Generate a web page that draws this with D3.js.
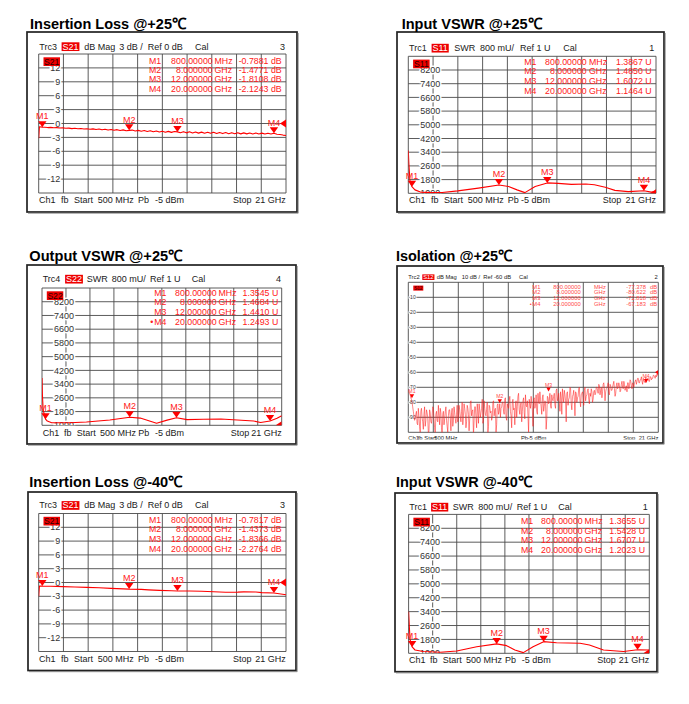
<!DOCTYPE html>
<html><head><meta charset="utf-8">
<script src="https://cdn.jsdelivr.net/npm/d3@7"></script>
<style>body{margin:0;background:#fff}svg{display:block}text{font-family:"Liberation Sans",Arial,sans-serif}</style>
</head><body><svg id="c" width="689" height="704"></svg>
<script>
// ---------------- DATA ----------------
const markerNames = ["M1","M2","M3","M4"];
const markerFreqs = [0.8, 8, 12, 20];
const markerFreqText = ["800.00000","8.000000","12.000000","20.000000"];
const markerUnits = ["MHz","GHz","GHz","GHz"];

const il25Marks = [-0.7881,-1.4771,-1.8108,-2.1243];
const inVswr25Marks = [1.3867,1.4850,1.6072,1.1464];
const outVswr25Marks = [1.3545,1.4684,1.4410,1.2493];
const iso25Marks = [-77.378,-80.622,-72.818,-67.183];
const il40Marks = [-0.7817,-1.4373,-1.8366,-2.2764];
const inVswr40Marks = [1.3655,1.5428,1.6707,1.2023];

const ilTicks = [12,9,6,3,0,-3,-6,-9,-12];
const vswrTicks = [8.2,7.4,6.6,5.8,5.0,4.2,3.4,2.6,1.8,1.0];
const vswrTickText = ["8200","7400","6600","5800","5000","4200","3400","2600","1800","1000"];
const isoTicks = [-10,-20,-30,-40,-50,-60,-70,-80,-90];

// Insertion loss @+25 (GHz, dB)
const il25Trace = [[0.5,-3.2],[0.56,-0.7],[0.8,-0.79],[1,-0.82],[1.25,-0.88],[1.5,-0.84],[1.75,-0.93],[2,-0.9],[2.25,-0.98],[2.5,-0.95],[2.75,-1.04],[3,-0.99],[3.25,-1.1],[3.5,-1.04],[3.75,-1.14],[4,-1.08],[4.25,-1.2],[4.5,-1.12],[4.75,-1.25],[5,-1.16],[5.25,-1.3],[5.5,-1.2],[5.75,-1.36],[6,-1.24],[6.25,-1.42],[6.5,-1.28],[6.75,-1.46],[7,-1.33],[7.25,-1.52],[7.5,-1.37],[7.75,-1.56],[8,-1.48],[8.25,-1.42],[8.5,-1.62],[8.75,-1.48],[9,-1.68],[9.25,-1.52],[9.5,-1.74],[9.75,-1.58],[10,-1.78],[10.25,-1.62],[10.5,-1.84],[10.75,-1.66],[11,-1.88],[11.25,-1.7],[11.5,-1.92],[11.75,-1.72],[12,-1.81],[12.25,-1.98],[12.5,-1.76],[12.75,-2.02],[13,-1.8],[13.25,-2.06],[13.5,-1.84],[13.75,-2.08],[14,-1.86],[14.25,-2.1],[14.5,-1.88],[14.75,-2.12],[15,-1.9],[15.25,-2.16],[15.5,-1.94],[15.75,-2.18],[16,-1.96],[16.25,-2.2],[16.5,-1.98],[16.75,-2.22],[17,-2],[17.25,-2.24],[17.5,-2.02],[17.75,-2.24],[18,-2.04],[18.25,-2.26],[18.5,-2.06],[18.75,-2.26],[19,-2.08],[19.25,-2.28],[19.5,-2.1],[19.75,-2.26],[20,-2.12],[20.25,-2.32],[20.5,-2.38],[20.75,-2.5],[21,-2.58]];

// Input VSWR @+25 (GHz, U)
const inVswr25Trace = [[0.5,3.5],[0.55,2.7],[0.64,1.7],[0.8,1.39],[1.05,1.2],[1.5,1.07],[2.4,1.04],[3.3,1.05],[4.6,1.14],[6.3,1.3],[8,1.485],[8.8,1.4],[9.5,1.2],[10.15,1.04],[11,1.4],[12,1.607],[12.9,1.58],[14,1.52],[15.2,1.54],[15.9,1.5],[16.8,1.35],[17.6,1.17],[18.7,1.1],[20,1.146],[20.6,1.07],[21,1.1]];

// Output VSWR @+25
const outVswr25Trace = [[0.5,3.75],[0.53,2.85],[0.6,1.9],[0.8,1.3545],[0.95,1.25],[1.33,1.15],[2.9,1.15],[4.3,1.19],[6.3,1.31],[8,1.468],[8.9,1.42],[10.3,1.12],[11.2,1.3],[12,1.441],[12.9,1.33],[14.3,1.35],[15.8,1.37],[17.2,1.31],[18.6,1.25],[19.2,1.16],[20,1.249],[20.6,1.41],[21,1.56]];

// Isolation @+25 (dB): even sweep points (A) and odd sweep points (B), 0.5 to 21 GHz
const isoSweepStart = 0.5, isoSweepStop = 21;
const iso25ValuesA = [-72,-74,-77,-80,-86,-92,
-88,-94,-84,-96,-86,-90,-98,-83,-92,-87,-101,-85,-93,-89,-84,-97,-88,-92,-82,-95,-87,-104,-86,-91,-83,-96,-89,-85,-99,-84,-92,-87,-94,-82,-90,
-85,-93,-80,-89,-84,-97,-82,-88,-91,-79,-86,-102,-83,-90,-81,-94,-85,-87,-78,-92,-84,-89,-80,-96,-83,-86,-90,-79,-85,-100,-82,-88,-81,-84,-80,
-86,-78,-90,-81,-84,-76,-89,-80,-85,-95,-79,-83,-74,-88,-80,-86,-77,-91,-82,-79,-100,-81,-76,-85,-78,-84,-75,-88,-80,-73,-83,-77,-86,-79,-98,-76,-81,-74,-84,-78,
-76,-82,-72,-79,-74,-86,-77,-71,-80,-75,-93,-73,-78,-70,-81,-76,-72,-89,-74,-77,-71,-79,-75,-73,-82,-70,-76,-72,-78,-74,-71,-80,-73,-75,-70,
-72,-68,-75,-70,-73,-67,-79,-71,-69,-74,-68,-72,-70,-66,-76,-69,-71,-67,-73,-68,-70,-66,-72,-69,-67,-71,-65,-69,-67,-70,
-66,-68,-64,-67,-65,-63,-68,-66,-67,-65,-64,-66,-63,-65,-64,-62,-64,-63,-62,-61];
const iso25ValuesB = [-73,-75,-78,-83,-89,
-91,-86,-95,-89,-100,-84,-93,-88,-96,-85,-90,-99,-87,-94,-83,-91,-102,-86,-93,-89,-84,-97,-88,-95,-86,-92,-100,-85,-90,-87,-96,-83,-91,-88,-93,
-82,-90,-86,-95,-81,-88,-93,-84,-99,-80,-89,-85,-92,-83,-97,-86,-81,-90,-84,-94,-79,-88,-85,-101,-82,-87,-92,-80,-89,-84,-95,-81,-86,-90,-83,
-80,-88,-77,-92,-83,-79,-86,-97,-78,-84,-81,-90,-76,-85,-82,-93,-79,-87,-75,-83,-89,-78,-84,-80,-96,-77,-82,-86,-74,-81,-78,-88,-75,-83,-80,-91,-77,-79,-82,-75,
-79,-74,-84,-71,-77,-80,-73,-88,-76,-72,-79,-74,-82,-77,-71,-85,-75,-78,-73,-80,-76,-70,-83,-74,-77,-72,-79,-75,-71,-81,-76,-73,-78,-72,-74,
-70,-74,-69,-72,-77,-68,-71,-73,-70,-67,-75,-69,-72,-68,-71,-74,-67,-70,-69,-72,-66,-71,-68,-70,-73,-67,-69,-66,-71,-68,
-67,-65,-66,-64,-67,-65,-66,-64,-66,-63,-65,-64,-66,-63,-64,-62,-63,-62,-61];

// Insertion loss @-40
const il40Trace = [[0.5,-3.0],[0.56,-0.75],[0.8,-0.78],[1.5,-0.82],[2.5,-0.9],[3.5,-0.98],[4.5,-1.05],[5.5,-1.15],[6.5,-1.28],[7.5,-1.38],[8,-1.44],[9,-1.5],[9.6,-1.6],[10.5,-1.72],[11.5,-1.8],[12,-1.84],[13,-1.86],[14,-1.9],[15,-2.0],[16,-2.12],[17,-2.1],[17.5,-2.04],[18.5,-2.07],[19,-2.2],[20,-2.28],[21,-2.65]];

// Input VSWR @-40
const inVswr40Trace = [[0.5,3.4],[0.56,2.55],[0.63,1.77],[0.8,1.3655],[1.05,1.19],[1.75,1.1],[3.2,1.06],[4.6,1.13],[6.3,1.38],[8,1.5428],[8.85,1.44],[9.55,1.19],[10.27,1.04],[11.1,1.38],[12,1.6707],[13.1,1.61],[15.1,1.58],[15.9,1.48],[17.1,1.19],[18.8,1.1],[20,1.2023],[21,1.19]];

// ---------------- DRAW ----------------
const svg = d3.select("#c");
const RED = "#ff0000";
const isoValues = [];
iso25ValuesA.forEach((v,i)=>{ isoValues.push(v); if(i<iso25ValuesB.length) isoValues.push(iso25ValuesB[i]); });
const isoTrace = isoValues.map((v,i)=>[isoSweepStart + i*(isoSweepStop-isoSweepStart)/(isoValues.length-1), v]);

const fmtIL = v => v.toFixed(4)+" dB";
const fmtSW = v => v.toFixed(4)+" U";

const panels = [
 {title:"Insertion Loss @+25℃", tx:30, ty:29.3, tw:156, frame:[27,32,297,212], grid:[38.7,54,286,193], dom:[-15,15],
  ticks:ilTicks, tickText:ilTicks.map(String), labR:60.2, fs:9, traceName:"S21",
  header:[["Trc3",39.3],["S21",62.5,"box"],["dB Mag",84.3],["3 dB /",119.3],["Ref 0 dB",147.7],["Cal",195],["3",285,"end"]], hy:49.5,
  footer:[["Ch1",39],["fb",61],["Start",74],["500 MHz",97.7],["Pb",138],["-5 dBm",155],["Stop",233],["21 GHz",285.7,"end"]], fy:203,
  trace:il25Trace, marks:il25Marks, fmt:fmtIL, ref:0,
  mt:{name:149,freqR:212.7,unitL:214.5,valR:281.7,rows:[63.8,73.1,82.4,91.8]}},
 {title:"Input VSWR @+25℃", tx:401.7, ty:29.3, tw:140, frame:[397,32,664,212], grid:[408.3,56.3,656,193.3], dom:[1,9],
  ticks:vswrTicks, tickText:vswrTickText, labR:440.3, fs:9, traceName:"S11",
  header:[["Trc1",409],["S11",432.5,"box"],["SWR",454.3],["800 mU/",480],["Ref 1 U",520],["Cal",563.3],["1",654.3,"end"]], hy:51,
  footer:[["Ch1",409],["fb",431],["Start",444],["500 MHz",467.7],["Pb",507.7],["-5 dBm",521],["Stop",602.7],["21 GHz",656,"end"]], fy:203.3,
  trace:inVswr25Trace, marks:inVswr25Marks, fmt:fmtSW, ref:1,
  mt:{name:524.3,freqR:586.7,unitL:589,valR:651.7,rows:[64.7,74.3,84,93.7]}},
 {title:"Output VSWR @+25℃", tx:29.3, ty:260.7, tw:153, frame:[27,265,296,444], grid:[42,288,281.7,425.3], dom:[1,9],
  ticks:vswrTicks, tickText:vswrTickText, labR:74, fs:9, traceName:"S22",
  header:[["Trc4",42.7],["S22",66,"box"],["SWR",86.7],["800 mU/",111.7],["Ref 1 U",150],["Cal",191.7],["4",281,"end"]], hy:282,
  footer:[["Ch1",42.7],["fb",64],["Start",76.7],["500 MHz",100],["Pb",138.3],["-5 dBm",155],["Stop",230.7],["21 GHz",281.7,"end"]], fy:435.7,
  trace:outVswr25Trace, marks:outVswr25Marks, fmt:fmtSW, ref:1, bullet:true,
  mt:{name:154.3,freqR:216.7,unitL:218.5,valR:278.3,rows:[295.7,305.3,315,324.7]}},
 {title:"Isolation @+25℃", tx:396, ty:260.7, tw:116, frame:[397,266,663,443], grid:[408.3,282.3,658.3,432.3], dom:[-100,0],
  ticks:isoTicks, tickText:isoTicks.map(String), labR:415.7, fs:5.8, lfs:5, traceName:"S12", iso:true,
  header:[["Trc2",408.3],["S12",423.2,"box"],["dB Mag",436.7],["10 dB /",461.7],["Ref -60 dB",483.3],["Cal",519],["2",657.7,"end"]], hy:279,
  footer:[["Ch1",408.3],["fb",417.7],["Start",424.3],["500 MHz",434.3],["Pb",521],["-5 dBm",527.7],["Stop",623.3],["21 GHz",658.3,"end"]], fy:440.2, fclip:439.6,
  trace:isoTrace, marks:iso25Marks, fmt:v=>v.toFixed(3), ref:-60, bullet:true,
  mt:{name:532.3,freqR:580.7,unitL:594,valR:646,unit2L:650,rows:[288.5,294.3,300.1,305.9]}},
 {title:"Insertion Loss @-40℃", tx:29.3, ty:487.3, tw:153, frame:[28,492,296,670.5], grid:[38.7,513.5,286,651.5], dom:[-15,15],
  ticks:ilTicks, tickText:ilTicks.map(String), labR:60.2, fs:9, traceName:"S21",
  header:[["Trc3",39.3],["S21",62.5,"box"],["dB Mag",84.3],["3 dB /",119.3],["Ref 0 dB",147.7],["Cal",195],["3",285,"end"]], hy:508.3,
  footer:[["Ch1",39],["fb",61],["Start",74],["500 MHz",97.7],["Pb",138],["-5 dBm",155],["Stop",233],["21 GHz",285.7,"end"]], fy:661.7,
  trace:il40Trace, marks:il40Marks, fmt:fmtIL, ref:0,
  mt:{name:149,freqR:212.7,unitL:214.5,valR:281.7,rows:[523,532.3,541.7,551.7]}},
 {title:"Input VSWR @-40℃", tx:396, ty:487.3, tw:135.7, frame:[395,493,657,671.7], grid:[408.6,514.4,649.3,653.3], dom:[1,9],
  ticks:vswrTicks, tickText:vswrTickText, labR:440, fs:9, traceName:"S11",
  header:[["Trc1",409.3],["S11",432,"box"],["SWR",452.7],["800 mU/",478.3],["Ref 1 U",516.7],["Cal",558.3],["1",647.7,"end"]], hy:510,
  footer:[["Ch1",409],["fb",430],["Start",442.7],["500 MHz",466],["Pb",505],["-5 dBm",521.7],["Stop",597.3],["21 GHz",649.3,"end"]], fy:663.3,
  trace:inVswr40Trace, marks:inVswr40Marks, fmt:fmtSW, ref:1,
  mt:{name:521,freqR:582.7,unitL:584.5,valR:645,rows:[524,533.7,543.3,553]}}
];

panels.forEach((p,pi)=>{
  const g = svg.append("g");
  const [fx0,fy0,fx1,fy1] = p.frame;
  const [gx0,gy0,gx1,gy1] = p.grid;
  const fs = p.fs;
  const mfs = p.iso ? fs : 8.8;
  // title
  svg.append("text").attr("x",p.tx).attr("y",p.ty).attr("font-weight","bold").attr("font-size",15.5)
    .attr("fill","#000").attr("textLength",p.tw).attr("lengthAdjust","spacingAndGlyphs").text(p.title);
  // frame
  g.append("rect").attr("x",fx0).attr("y",fy0).attr("width",fx1-fx0).attr("height",fy1-fy0)
    .attr("fill","#fff").attr("stroke","#222").attr("stroke-width",1.7);
  g.append("path").attr("d",`M${fx1+1.2},${fy0+1}V${fy1+1.2}H${fx0+1}`).attr("fill","none").attr("stroke","#777").attr("stroke-width",0.8);

  const x = d3.scaleLinear().domain([0.5,21]).range([gx0,gx1]);
  const y = d3.scaleLinear().domain(p.dom).range([gy1,gy0]);
  const clipId = "clip"+pi;
  svg.append("clipPath").attr("id",clipId).append("rect").attr("x",gx0).attr("y",gy0).attr("width",gx1-gx0).attr("height",gy1-gy0);

  // grid
  const gg = g.append("g").attr("stroke","#4a4a4a").attr("stroke-width",0.9).attr("fill","none");
  const xStep = (21-0.5)/10, yStep = (p.dom[1]-p.dom[0])/10;
  for(let i=0;i<=10;i++){
    const xv = x(0.5+i*xStep);
    gg.append("line").attr("x1",xv).attr("x2",xv).attr("y1",gy0).attr("y2",gy1);
    const yv = y(p.dom[0]+i*yStep);
    gg.append("line").attr("x1",gx0).attr("x2",gx1).attr("y1",yv).attr("y2",yv);
  }

  // y labels
  const lfs = p.lfs || 9;
  g.append("g").attr("clip-path",`url(#${clipId})`).selectAll("text").data(p.ticks).join("text")
    .attr("x",p.labR).attr("y",d=>y(d)).attr("dy","0.35em").attr("text-anchor","end")
    .attr("font-size",lfs).attr("fill","#333").attr("stroke","#fff").attr("stroke-width",p.iso?1.6:3)
    .attr("paint-order","stroke").text((d,i)=>p.tickText[i]);

  // trace label box in diagram
  const tbw = p.iso?10:16.5, tbh = p.iso?5:8.7;
  const tbx = gx0 + (p.iso?5:4.8), tby = gy0 + 3.3;
  g.append("rect").attr("x",tbx).attr("y",tby).attr("width",tbw).attr("height",tbh).attr("fill","#ee0000");
  g.append("text").attr("x",tbx+tbw/2).attr("y",tby+tbh/2).attr("dy","0.36em").attr("text-anchor","middle")
    .attr("font-size",p.iso?4.6:8.6).attr("fill","#2a0000").text(p.traceName);

  // header
  p.header.forEach(h=>{
    let box = null;
    if(h[2]==="box") box = g.append("rect").attr("fill","#ee0000");
    const t = g.append("text").attr("x",h[1]).attr("y",p.hy).attr("font-size",fs).attr("fill",h[2]==="box"?"#fff":"#1a1a1a")
      .attr("text-anchor",h[2]==="end"?"end":"start").text(h[0]);
    if(box){
      const w = t.node().getComputedTextLength();
      box.attr("x",h[1]-0.9).attr("y",p.hy-fs*0.8).attr("width",w+1.8).attr("height",fs*0.97);
    }
  });

  // footer
  const fg = g.append("g");
  if(p.fclip){
    svg.append("clipPath").attr("id","fc"+pi).append("rect").attr("x",fx0).attr("y",fy0).attr("width",fx1-fx0).attr("height",p.fclip-fy0);
    fg.attr("clip-path",`url(#fc${pi})`);
  }
  p.footer.forEach(f=>{
    fg.append("text").attr("x",f[1]).attr("y",p.fy).attr("font-size",fs).attr("fill","#1a1a1a")
      .attr("text-anchor",f[2]==="end"?"end":"start").text(f[0]);
  });

  // trace
  const line = d3.line().x(d=>x(d[0])).y(d=>y(d[1]));
  g.append("path").attr("clip-path",`url(#${clipId})`).attr("d",line(p.trace)).attr("fill","none")
    .attr("stroke",p.iso?"#ff2020":RED).attr("stroke-width",p.iso?0.55:1.1).attr("stroke-linejoin","round");

  // reference level triangle
  const yr = y(p.ref), rs = p.iso?2.2:4;
  g.append("path").attr("clip-path",`url(#${clipId})`)
    .attr("d",`M${gx1},${yr-rs}L${gx1-rs*1.5},${yr}L${gx1},${yr+rs}Z`).attr("fill",RED);

  // marker table
  const mc = p.iso?"#ff4a4a":"#ff2020";
  const mt = p.mt;
  markerNames.forEach((m,i)=>{
    const yy = mt.rows[i];
    g.append("text").attr("x",mt.name).attr("y",yy).attr("font-size",mfs).attr("fill",mc).text(m);
    if(p.bullet && i===3) g.append("text").attr("x",mt.name-(p.iso?2.5:4)).attr("y",yy).attr("font-size",mfs).attr("fill",mc).text("•");
    g.append("text").attr("x",mt.freqR).attr("y",yy).attr("font-size",mfs).attr("fill",mc).attr("text-anchor","end").text(markerFreqText[i]);
    g.append("text").attr("x",mt.unitL).attr("y",yy).attr("font-size",mfs).attr("fill",mc).text(markerUnits[i]);
    g.append("text").attr("x",mt.valR).attr("y",yy).attr("font-size",mfs).attr("fill",mc).attr("text-anchor","end").text(p.fmt(p.marks[i]));
    if(mt.unit2L) g.append("text").attr("x",mt.unit2L).attr("y",yy).attr("font-size",mfs).attr("fill",mc).text("dB");
  });

  // marker triangles
  const hw = p.iso?2.2:4.2, th = p.iso?4:6;
  markerFreqs.forEach((f,i)=>{
    const px = x(f), py = y(p.marks[i]);
    g.append("path").attr("d",`M${px},${py}L${px-hw},${py-th}L${px+hw},${py-th}Z`).attr("fill",RED);
    g.append("text").attr("x",px).attr("y",py-th-(p.iso?1:1.8)).attr("text-anchor","middle")
      .attr("font-size",p.iso?5.2:9).attr("fill",mc).text(markerNames[i]);
  });
});
</script></body></html>
